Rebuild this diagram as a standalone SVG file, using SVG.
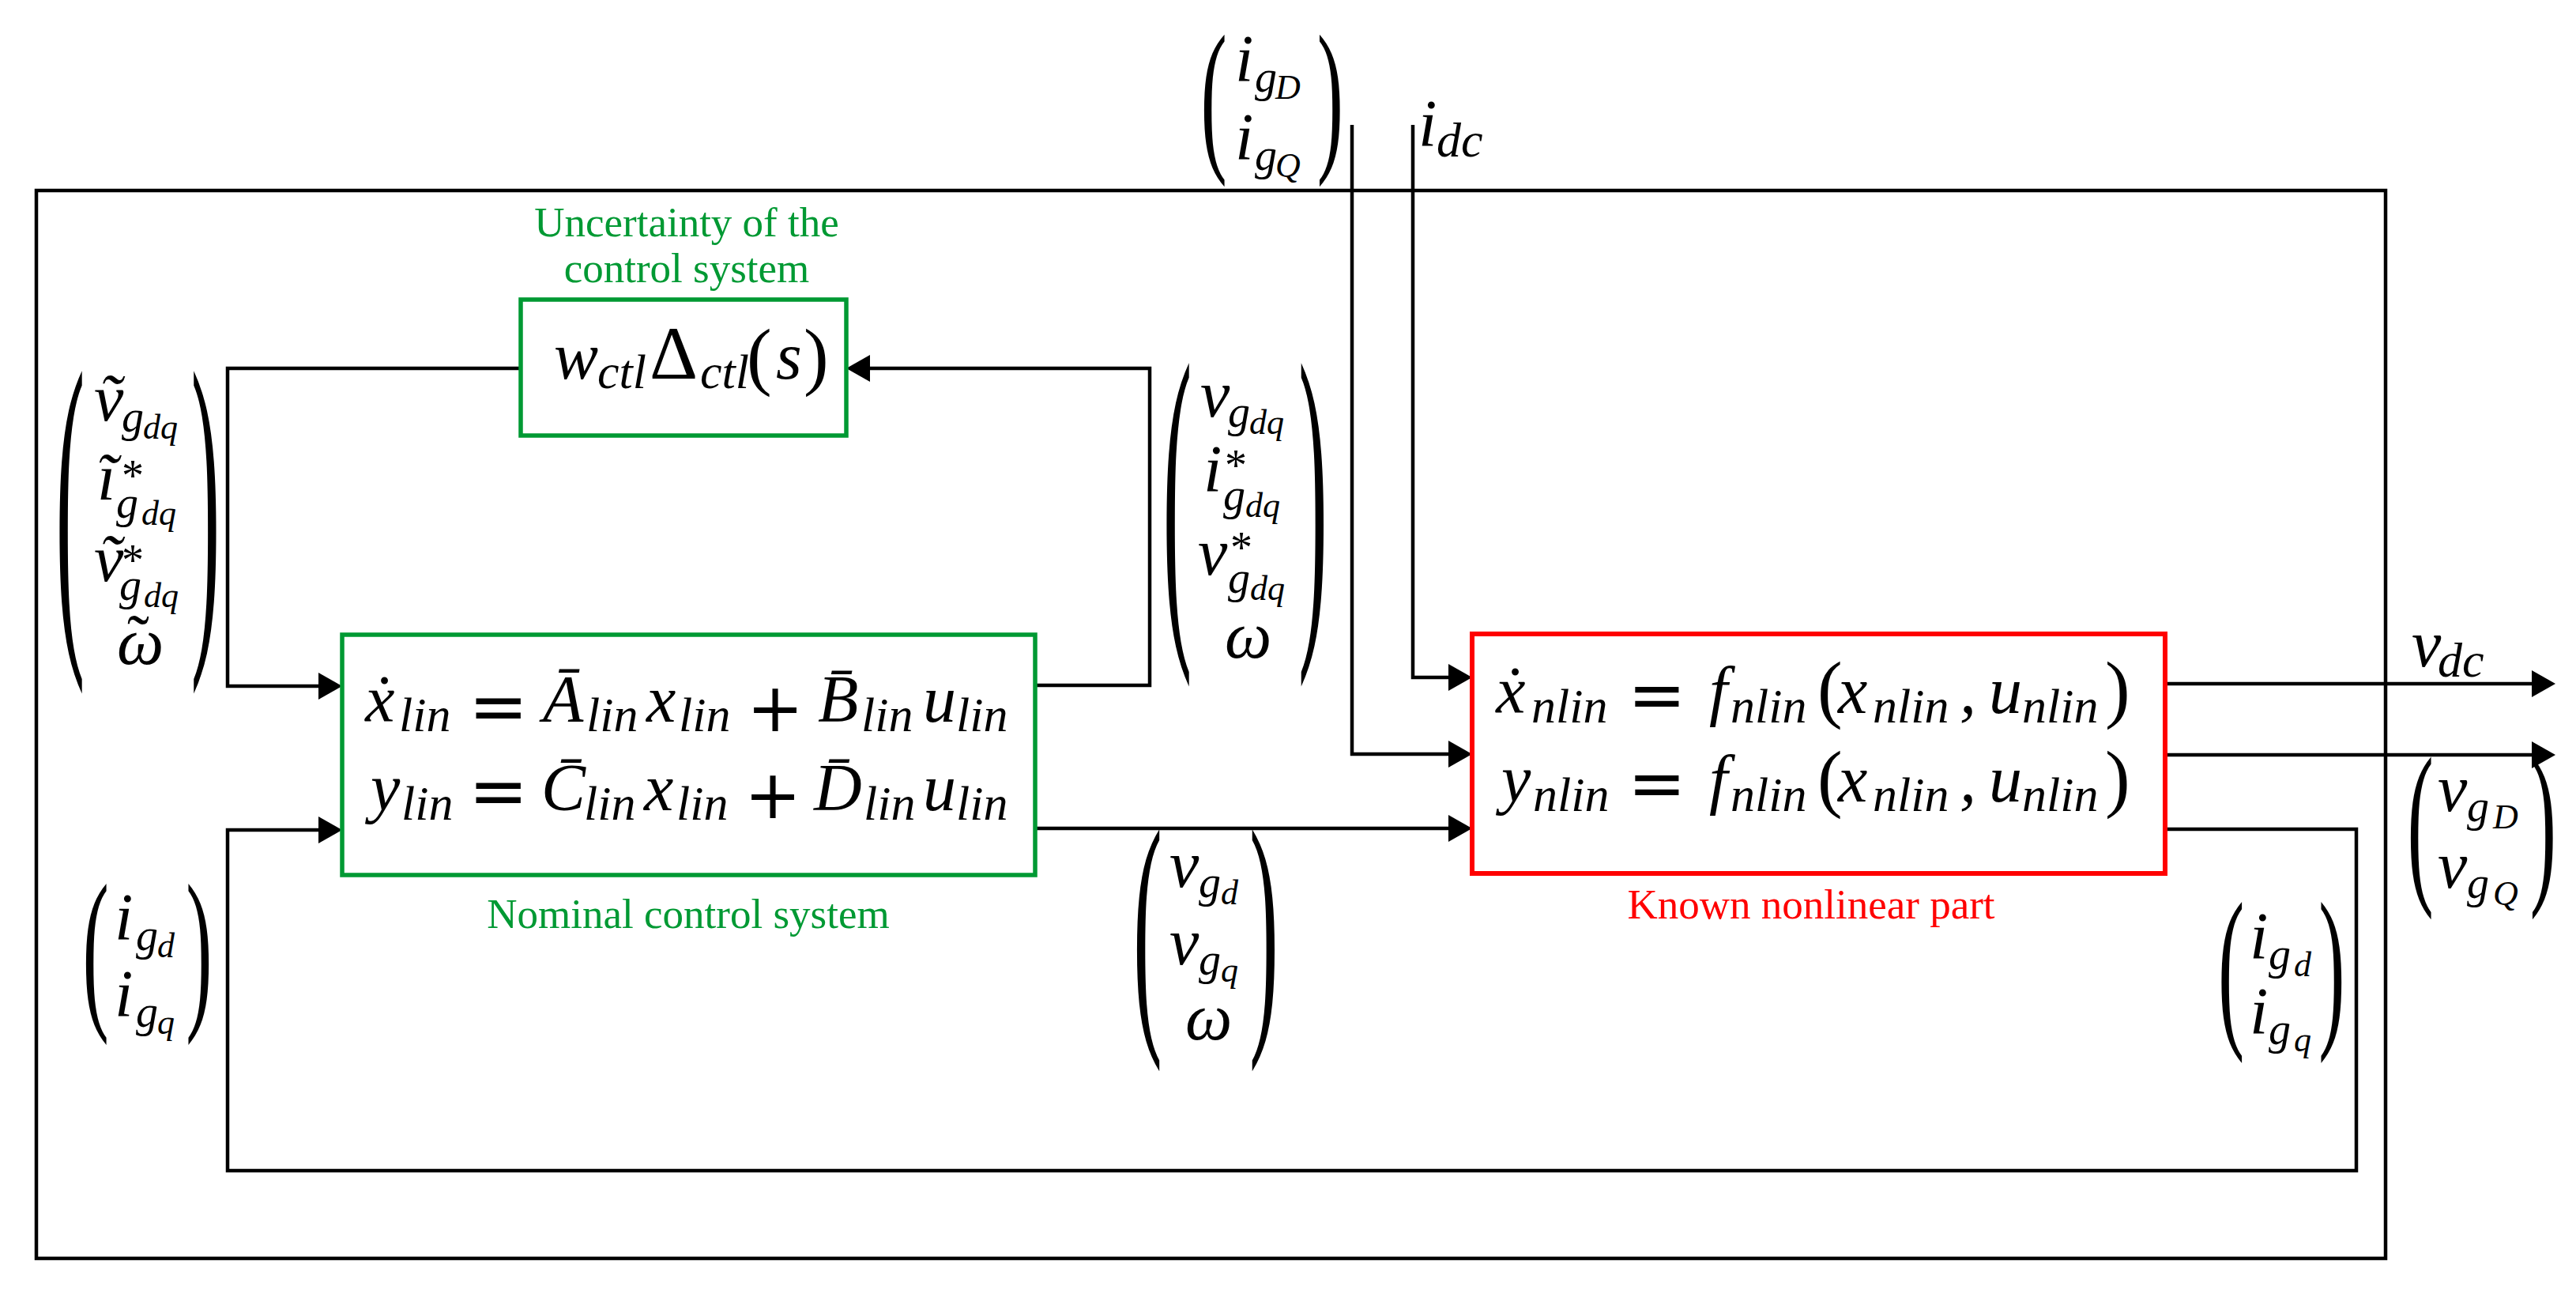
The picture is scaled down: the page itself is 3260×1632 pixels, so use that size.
<svg xmlns="http://www.w3.org/2000/svg" width="3260" height="1632" viewBox="0 0 3260 1632">
<style>
.ln{fill:none;stroke:#000;stroke-width:4.5}
.ar{marker-end:url(#ah)}
.box{fill:none;stroke:#000;stroke-width:4.5}
.gb{fill:#fff;stroke:#009933;stroke-width:5.5}
.rb{fill:#fff;stroke:#ff0000;stroke-width:6}
.m{font-family:"Liberation Serif","DejaVu Serif",serif;font-style:italic;font-size:84px;fill:#000}
.s{font-size:62px}
.vs{font-size:56px}
.ss{font-size:44px}
.up{font-style:normal}
.op{font-family:"DejaVu Sans",sans-serif;font-style:normal}
.pr{font-family:"Liberation Serif",serif;font-style:normal;font-size:100px;fill:#000}
.lbl{font-family:"Liberation Serif",serif;font-size:53px;text-anchor:middle}
.g{fill:#009933}
.r{fill:#ff0000}
</style>
<defs>
<marker id="ah" markerUnits="userSpaceOnUse" markerWidth="30" markerHeight="34" refX="20" refY="17" orient="auto" viewBox="0 0 30 34"><path d="M0,0 L30,17 L0,34 z" fill="#000"/></marker>
</defs>
<rect width="3260" height="1632" fill="#fff"/>
<g id="outer"><rect class="box" x="46" y="241" width="2973" height="1351"/></g>

<g id="connectors">
<path class="ln ar" d="M659,466 H288 V868 H423"/>
<path class="ln ar" d="M1310,867 H1455 V466 H1081"/>
<path class="ln ar" d="M1310,1048 H1853"/>
<path class="ln ar" d="M2740,1049 H2982 V1481 H288 V1050 H423"/>
<path class="ln ar" d="M1711,158 V954 H1853"/>
<path class="ln ar" d="M1788,158 V857 H1853"/>
<path class="ln ar" d="M2740,865 H3224"/>
<path class="ln ar" d="M2740,955 H3224"/>
</g>

<g id="uncertainty">
<rect class="gb" x="659" y="379" width="412" height="172"/>
<text class="m"><tspan x="701" y="479">w</tspan><tspan class="s" x="756" y="491">ctl</tspan><tspan class="up" font-size="95" x="822" y="479">Δ</tspan><tspan class="s" x="886" y="491">ctl</tspan><tspan class="up" x="945" y="482" font-size="95">(</tspan><tspan x="982" y="479">s</tspan><tspan class="up" x="1017" y="482" font-size="95">)</tspan></text>
<text class="lbl g" x="869" y="299">Uncertainty of the</text>
<text class="lbl g" x="869" y="357">control system</text>
</g>

<g id="nominal">
<rect class="gb" x="433" y="803" width="877" height="304"/>
<text class="m"><tspan x="462" y="913">x&#x307;</tspan><tspan class="s" x="505" y="925">lin</tspan><tspan class="op" font-size="90" x="593" y="925">=</tspan><tspan x="687" y="913">Ā</tspan><tspan class="s" x="742" y="925">lin</tspan><tspan x="818" y="913">x</tspan><tspan class="s" x="859" y="925">lin</tspan><tspan class="op" font-size="86" x="945" y="925">+</tspan><tspan x="1035" y="913">B&#x304;</tspan><tspan class="s" x="1090" y="925">lin</tspan><tspan x="1168" y="913">u</tspan><tspan class="s" x="1210" y="925">lin</tspan></text>
<text class="m"><tspan x="469" y="1025">y</tspan><tspan class="s" x="508" y="1037">lin</tspan><tspan class="op" font-size="90" x="593" y="1032">=</tspan><tspan x="685" y="1025">C&#x304;</tspan><tspan class="s" x="739" y="1037">lin</tspan><tspan x="815" y="1025">x</tspan><tspan class="s" x="856" y="1037">lin</tspan><tspan class="op" font-size="86" x="942" y="1035">+</tspan><tspan x="1030" y="1025">D&#x304;</tspan><tspan class="s" x="1093" y="1037">lin</tspan><tspan x="1168" y="1025">u</tspan><tspan class="s" x="1210" y="1037">lin</tspan></text>
<text class="lbl g" x="871" y="1174">Nominal control system</text>
</g>

<g id="nonlinear">
<rect class="rb" x="1863" y="802" width="877" height="303"/>
<text class="m"><tspan x="1893" y="902">x&#x307;</tspan><tspan class="s" x="1938" y="914">nlin</tspan><tspan class="op" font-size="88" x="2060" y="909">=</tspan><tspan x="2163" y="902">f</tspan><tspan class="s" x="2190" y="914">nlin</tspan><tspan class="up" font-size="95" x="2300" y="903">(</tspan><tspan x="2326" y="902">x</tspan><tspan class="s" x="2370" y="914">nlin</tspan><tspan x="2480" y="902">,</tspan><tspan x="2517" y="902">u</tspan><tspan class="s" x="2559" y="914">nlin</tspan><tspan class="up" font-size="95" x="2664" y="903">)</tspan></text>
<text class="m"><tspan x="1900" y="1014">y</tspan><tspan class="s" x="1940" y="1026">nlin</tspan><tspan class="op" font-size="88" x="2060" y="1021">=</tspan><tspan x="2163" y="1014">f</tspan><tspan class="s" x="2190" y="1026">nlin</tspan><tspan class="up" font-size="95" x="2300" y="1016">(</tspan><tspan x="2326" y="1014">x</tspan><tspan class="s" x="2370" y="1026">nlin</tspan><tspan x="2480" y="1014">,</tspan><tspan x="2517" y="1014">u</tspan><tspan class="s" x="2559" y="1026">nlin</tspan><tspan class="up" font-size="95" x="2664" y="1016">)</tspan></text>
<text class="lbl r" x="2292" y="1162">Known nonlinear part</text>
</g>

<g id="vec-igDQ">
<text class="pr" transform="translate(1519.4,138) scale(1.0,2.11)" x="0" y="25">(</text>
<text class="pr" transform="translate(1666.8,138) scale(1.0,2.11)" x="0" y="25">)</text>
<text class="m"><tspan x="1563" y="103">i</tspan><tspan class="vs" x="1588" y="116">g</tspan><tspan class="ss" x="1614" y="125">D</tspan></text>
<text class="m"><tspan x="1563" y="202">i</tspan><tspan class="vs" x="1588" y="215">g</tspan><tspan class="ss" x="1614" y="224">Q</tspan></text>
</g>

<g id="lbl-idc">
<text class="m"><tspan x="1795" y="185">i</tspan><tspan class="s" x="1818" y="198">dc</tspan></text>
</g>

<g id="vec-tilde">
<text class="pr" transform="translate(70.6,669) scale(1.1,4.502)" x="0" y="25">(</text>
<text class="pr" transform="translate(241.7,669) scale(1.1,4.502)" x="0" y="25">)</text>
<text class="m"><tspan x="119" y="533">v&#x303;</tspan><tspan class="vs" x="154" y="546">g</tspan><tspan class="ss" x="181" y="555">dq</tspan></text>
<text class="m"><tspan x="123" y="633">i&#x303;</tspan><tspan class="vs up" x="154" y="621">*</tspan><tspan class="vs" x="147" y="655">g</tspan><tspan class="ss" x="179" y="664">dq</tspan></text>
<text class="m"><tspan x="119" y="736">v&#x303;</tspan><tspan class="vs up" x="154" y="728">*</tspan><tspan class="vs" x="151" y="759">g</tspan><tspan class="ss" x="182" y="768">dq</tspan></text>
<text class="m"><tspan x="148" y="840">ω</tspan><tspan class="up" x="161" y="836">˜</tspan></text>
</g>

<g id="vec-ctl-out">
<text class="pr" transform="translate(1471.6,659.5) scale(1.1,4.513)" x="0" y="25">(</text>
<text class="pr" transform="translate(1643.2,659.5) scale(1.1,4.513)" x="0" y="25">)</text>
<text class="m"><tspan x="1519" y="527">v</tspan><tspan class="vs" x="1554" y="540">g</tspan><tspan class="ss" x="1581" y="549">dq</tspan></text>
<text class="m"><tspan x="1523" y="622">i</tspan><tspan class="vs up" x="1550" y="608">*</tspan><tspan class="vs" x="1548" y="645">g</tspan><tspan class="ss" x="1576" y="654">dq</tspan></text>
<text class="m"><tspan x="1516" y="727">v</tspan><tspan class="vs up" x="1557" y="712">*</tspan><tspan class="vs" x="1554" y="750">g</tspan><tspan class="ss" x="1582" y="759">dq</tspan></text>
<text class="m"><tspan x="1550" y="832">ω</tspan></text>
</g>

<g id="vec-vgdq">
<text class="pr" transform="translate(1434.1,1199) scale(1.1,3.376)" x="0" y="25">(</text>
<text class="pr" transform="translate(1581.2,1199) scale(1.1,3.376)" x="0" y="25">)</text>
<text class="m"><tspan x="1480" y="1122">v</tspan><tspan class="vs" x="1517" y="1135">g</tspan><tspan class="ss" x="1545" y="1144">d</tspan></text>
<text class="m"><tspan x="1480" y="1220">v</tspan><tspan class="vs" x="1517" y="1233">g</tspan><tspan class="ss" x="1545" y="1242">q</tspan></text>
<text class="m"><tspan x="1500" y="1315">ω</tspan></text>
</g>

<g id="vec-igdq-left">
<text class="pr" transform="translate(104.4,1218) scale(1.0,2.251)" x="0" y="25">(</text>
<text class="pr" transform="translate(235.3,1218) scale(1.0,2.251)" x="0" y="25">)</text>
<text class="m"><tspan x="145" y="1189">i</tspan><tspan class="vs" x="172" y="1202">g</tspan><tspan class="ss" x="199" y="1211">d</tspan></text>
<text class="m"><tspan x="145" y="1286">i</tspan><tspan class="vs" x="172" y="1299">g</tspan><tspan class="ss" x="199" y="1308">q</tspan></text>
</g>

<g id="vec-igdq-right">
<text class="pr" transform="translate(2806.9,1241.5) scale(1.0,2.239)" x="0" y="25">(</text>
<text class="pr" transform="translate(2934.3,1241.5) scale(1.0,2.239)" x="0" y="25">)</text>
<text class="m"><tspan x="2847" y="1213">i</tspan><tspan class="vs" x="2871" y="1226">g</tspan><tspan class="ss" x="2903" y="1235">d</tspan></text>
<text class="m"><tspan x="2847" y="1308">i</tspan><tspan class="vs" x="2871" y="1321">g</tspan><tspan class="ss" x="2903" y="1330">q</tspan></text>
</g>

<g id="vec-vgDQ">
<text class="pr" transform="translate(3046.4,1058.5) scale(1.0,2.263)" x="0" y="25">(</text>
<text class="pr" transform="translate(3201.8,1058.5) scale(1.0,2.263)" x="0" y="25">)</text>
<text class="m"><tspan x="3085" y="1026">v</tspan><tspan class="vs" x="3122" y="1039">g</tspan><tspan class="ss" x="3155" y="1048">D</tspan></text>
<text class="m"><tspan x="3085" y="1123">v</tspan><tspan class="vs" x="3122" y="1136">g</tspan><tspan class="ss" x="3155" y="1145">Q</tspan></text>
</g>

<g id="lbl-vdc">
<text class="m"><tspan x="3052" y="843">v</tspan><tspan class="s" x="3085" y="856">dc</tspan></text>
</g>
</svg>
